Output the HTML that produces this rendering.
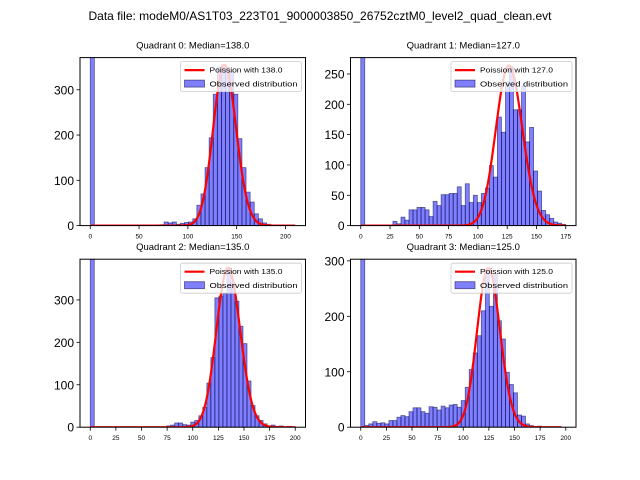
<!DOCTYPE html>
<html><head><meta charset="utf-8"><style>
body{margin:0;background:#fff}
svg{display:block;font-family:"Liberation Sans","DejaVu Sans",sans-serif}
</style></head><body>
<svg id="fig" width="640" height="480" viewBox="0 0 640 480">
<rect width="640" height="480" fill="#fff"/>
<text x="320" y="20" font-size="12" text-anchor="middle">Data file: modeM0/AS1T03_223T01_9000003850_26752cztM0_level2_quad_clean.evt</text>
</svg>
<script>
// ---- data ----
const q0Counts=[2000,0,0,0,0,0,0,0,0,0,0,0,0,0,0,0,0,2,8,6,8,3,5,7,8,15,45,70,128,194,290,350,355,350,340,290,192,128,74,52,26,15,6,3,1,1,0,0,0,0];
const q1Counts=[2000,0,0,0,0,0,0,0,7,3,14,9,26,26,30,30,26,15,40,33,51,51,53,53,64,33,69,38,50,38,53,62,99,80,179,154,237,262,191,191,230,138,162,90,57,25,18,12,6,4,2];
const q2Counts=[2000,0,0,0,0,0,0,0,0,0,0,0,0,0,0,0,0,0,0,3,5,10,10,6,5,12,16,27,47,104,164,305,309,315,375,340,297,238,197,109,51,27,16,8,3,5,2,3,0,2,0];
const q3Counts=[2000,3,6,10,7,8,6,12,12,18,21,19,28,35,35,28,25,37,36,31,38,35,40,41,36,48,72,104,134,165,210,281,218,275,192,159,99,77,62,22,20,6,3,0,2,0,0,0,0,0];
const binMax=[210,175,200,196];
const medians=[138,127,135,125];
const curvePeaks=[355,264,376,287];
const xTicks=[[0,50,100,150,200],[0,25,50,75,100,125,150,175],[0,25,50,75,100,125,150,175,200],[0,25,50,75,100,125,150,175,200]];
const yTicks=[[0,100,200,300],[0,50,100,150,200,250],[0,100,200,300],[0,100,200,300]];
const yMax=[371,277,396,303];
const xMin=[-10.5,-8.75,-10,-10];
const xMax=[220.5,183.75,210,210];
// ---- layout ----
const allCounts=[q0Counts,q1Counts,q2Counts,q3Counts];
const boxes=[[80,57.6],[350.5,57.6],[80,259.2],[350.5,259.2]];
const W=225.5,H=168;
const svg=document.getElementById('fig');
const NS='http://www.w3.org/2000/svg';
function mk(tag,attrs,parent){const e=document.createElementNS(NS,tag);for(const k in attrs)e.setAttribute(k,attrs[k]);(parent||svg).appendChild(e);return e;}
function lgam(z){const c=[76.18009172947146,-86.50532032941677,24.01409824083091,-1.231739572450155,0.1208650973866179e-2,-0.5395239384953e-5];let x=z,y=z,t=x+5.5;t-=(x+0.5)*Math.log(t);let s=1.000000000190015;for(let j=0;j<6;j++)s+=c[j]/++y;return -t+Math.log(2.5066282746310005*s/x);}
function lpmf(k,l){return k*Math.log(l)-l-lgam(k+1);}
for(let q=0;q<4;q++){
  const [L,T]=boxes[q];const counts=allCounts[q];
  const g=mk('g',{});
  
  
  const xs=v=>L+(v-xMin[q])/(xMax[q]-xMin[q])*W;
  const ys=v=>T+H-Math.min(v,yMax[q]*1.05)/yMax[q]*H;
  const clip=mk('clipPath',{id:'c'+q},g);mk('rect',{x:L,y:T,width:W,height:H},clip);
  const bars=mk('g',{'clip-path':'url(#c'+q+')'},g);
  const bw=binMax[q]/counts.length;
  counts.forEach((c,i)=>{ if(c<=0)return;
    const r=mk('rect',{x:xs(i*bw),y:ys(c),width:xs((i+1)*bw)-xs(i*bw),height:ys(0)-ys(c),fill:'rgba(0,0,255,0.5)',stroke:'rgba(0,0,60,0.55)','stroke-width':0.8},bars);
    
    
  });
  const lam=medians[q];const pk=lpmf(lam,lam);let d='';
  for(let k=0;k<=binMax[q];k++){const v=curvePeaks[q]*Math.exp(lpmf(k,lam)-pk);d+=(k?'L':'M')+xs(k).toFixed(2)+','+ys(v).toFixed(2);}
  const p=mk('path',{d:d,fill:'none',stroke:'#ff0000','stroke-width':2.2,'stroke-linejoin':'round'},bars);
  
  
  mk('rect',{x:L,y:T,width:W,height:H,fill:'none',stroke:'#000','stroke-width':1},g);
  xTicks[q].forEach(t=>{const x=xs(t);mk('line',{x1:x,x2:x,y1:T+H,y2:T+H+3.5,stroke:'#000','stroke-width':0.8},g);
    const tx=mk('text',{x:x,y:T+H+13,'font-size':6.5,'text-anchor':'middle'},g);tx.textContent=t;
    
    });
  yTicks[q].forEach(t=>{const y=ys(t);mk('line',{x1:L,x2:L-3.5,y1:y,y2:y,stroke:'#000','stroke-width':0.8},g);
    const tx=mk('text',{x:L-6,y:y+4.5,'font-size':12,'text-anchor':'end'},g);tx.textContent=t;
    
    });
  const ti=mk('text',{x:L+W/2,y:T-9,'font-size':9.5,'text-anchor':'middle'},g);
  ti.textContent='Quadrant '+q+': Median='+medians[q].toFixed(1);
  
  
  const lg=mk('g',{},g);
  
  
  const lx=L+W-125,ly=T+4;
  mk('rect',{x:lx,y:ly,width:121,height:30,rx:2,fill:'rgba(255,255,255,0.8)',stroke:'#ccc','stroke-width':0.8},lg);
  mk('line',{x1:lx+4,x2:lx+24,y1:ly+8.5,y2:ly+8.5,stroke:'#ff0000','stroke-width':2.2},lg);
  mk('rect',{x:lx+4,y:ly+18.5,width:20,height:7,fill:'rgba(0,0,255,0.5)',stroke:'rgba(0,0,60,0.6)','stroke-width':0.8},lg);
  const t1=mk('text',{x:lx+29,y:ly+11,'font-size':7.2,textLength:'73',lengthAdjust:'spacingAndGlyphs'},lg);t1.textContent='Poission with '+medians[q].toFixed(1);
  const t2=mk('text',{x:lx+29,y:ly+25,'font-size':7.2,textLength:'88',lengthAdjust:'spacingAndGlyphs'},lg);t2.textContent='Observed distribution';
}
</script>
</body></html>
